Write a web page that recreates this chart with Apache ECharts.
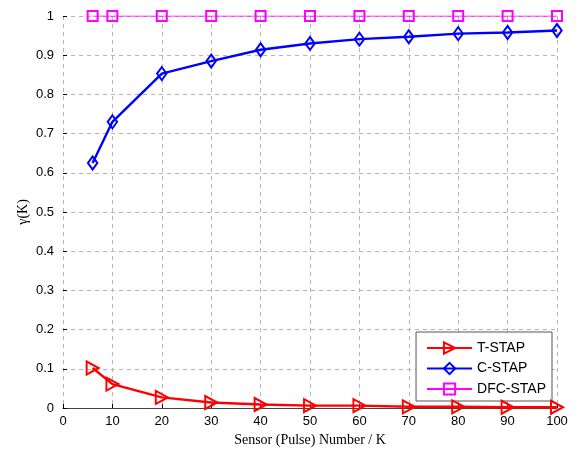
<!DOCTYPE html>
<html>
<head>
<meta charset="utf-8">
<script src="https://cdn.jsdelivr.net/npm/echarts@6/dist/echarts.min.js"></script>
<style>
html,body{margin:0;padding:0;background:#fff;}
#chart{width:587px;height:453px;}
</style>
</head>
<body>
<div id="chart"></div>
<script>
// Sensor (pulse) numbers K
const kValues = [6, 10, 20, 30, 40, 50, 60, 70, 80, 90, 100];
// gamma(K) for each method
const tStap = [0.102, 0.061, 0.027, 0.014, 0.009, 0.006, 0.006, 0.003, 0.003, 0.002, 0.002];
const cStap = [0.625, 0.730, 0.853, 0.885, 0.914, 0.930, 0.941, 0.947, 0.955, 0.958, 0.963];
const dfcStap = [1, 1, 1, 1, 1, 1, 1, 1, 1, 1, 1];
const seriesNames = ['T-STAP', 'C-STAP', 'DFC-STAP'];

const pair = arr => kValues.map((k, i) => [k, arr[i]]);
const tri = 'path://M0,0 L10,5 L0,10 Z';
const diamond = 'path://M6,0 L12,7 L6,14 L0,7 Z';

const chart = echarts.init(document.getElementById('chart'));
const sans = 'Liberation Sans, Arial, sans-serif';
const serif = 'Liberation Serif, Times New Roman, serif';

chart.setOption({
  animation: false,
  backgroundColor: '#fff',
  grid: {left: 63, right: 30, top: 16, bottom: 45},
  legend: {
    right: 35, bottom: 52,
    orient: 'vertical',
    backgroundColor: '#fff',
    borderColor: '#555',
    borderWidth: 1,
    padding: [9, 6, 5, 10],
    itemGap: 6.5,
    itemWidth: 45,
    itemHeight: 14,
    textStyle: {fontFamily: sans, fontSize: 14, color: '#000'},
    data: seriesNames
  },
  xAxis: {
    type: 'value', min: 0, max: 100, interval: 10,
    name: 'Sensor (Pulse) Number / K',
    nameLocation: 'middle', nameGap: 25,
    nameMoveOverlap: false,
    nameTextStyle: {fontFamily: serif, fontSize: 14, color: '#000'},
    axisLine: {show: true, onZero: false, lineStyle: {color: '#444', width: 1}},
    axisTick: {show: true, inside: true, length: 4, lineStyle: {color: '#000'}},
    axisLabel: {fontFamily: sans, fontSize: 13, color: '#000', margin: 7},
    splitLine: {show: true, lineStyle: {color: '#b5b5b5', type: [4, 4], width: 1}}
  },
  yAxis: {
    type: 'value', min: 0, max: 1, interval: 0.1,
    name: 'γ(K)',
    nameLocation: 'middle', nameGap: 33,
    nameMoveOverlap: false,
    nameTextStyle: {fontFamily: serif, fontSize: 14, color: '#000'},
    axisLine: {show: false},
    axisTick: {show: true, inside: true, length: 4, lineStyle: {color: '#000'}},
    axisLabel: {fontFamily: sans, fontSize: 13, color: '#000', margin: 9,
      formatter: v => String(Math.round(v * 10) / 10)},
    splitLine: {show: true, lineStyle: {color: '#b5b5b5', type: [4, 4], width: 1}}
  },
  series: [
    {
      name: seriesNames[0], type: 'line', data: pair(tStap),
      symbol: tri, symbolSize: [12, 13], symbolKeepAspect: true,
      lineStyle: {color: '#ff0000', width: 2.4},
      itemStyle: {color: 'rgba(255,255,255,0)', borderColor: '#ff0000', borderWidth: 2},
      z: 4
    },
    {
      name: seriesNames[1], type: 'line', data: pair(cStap),
      symbol: diamond, symbolSize: [11, 13], symbolKeepAspect: true,
      lineStyle: {color: '#0000ff', width: 2.4},
      itemStyle: {color: 'rgba(255,255,255,0)', borderColor: '#0000ff', borderWidth: 2},
      z: 3
    },
    {
      name: seriesNames[2], type: 'line', data: pair(dfcStap),
      symbol: 'rect', symbolSize: 10,
      lineStyle: {color: '#ff00ff', width: 1},
      itemStyle: {color: 'rgba(255,255,255,0)', borderColor: '#ff00ff', borderWidth: 2},
      z: 2
    }
  ]
});
</script>
</body>
</html>
